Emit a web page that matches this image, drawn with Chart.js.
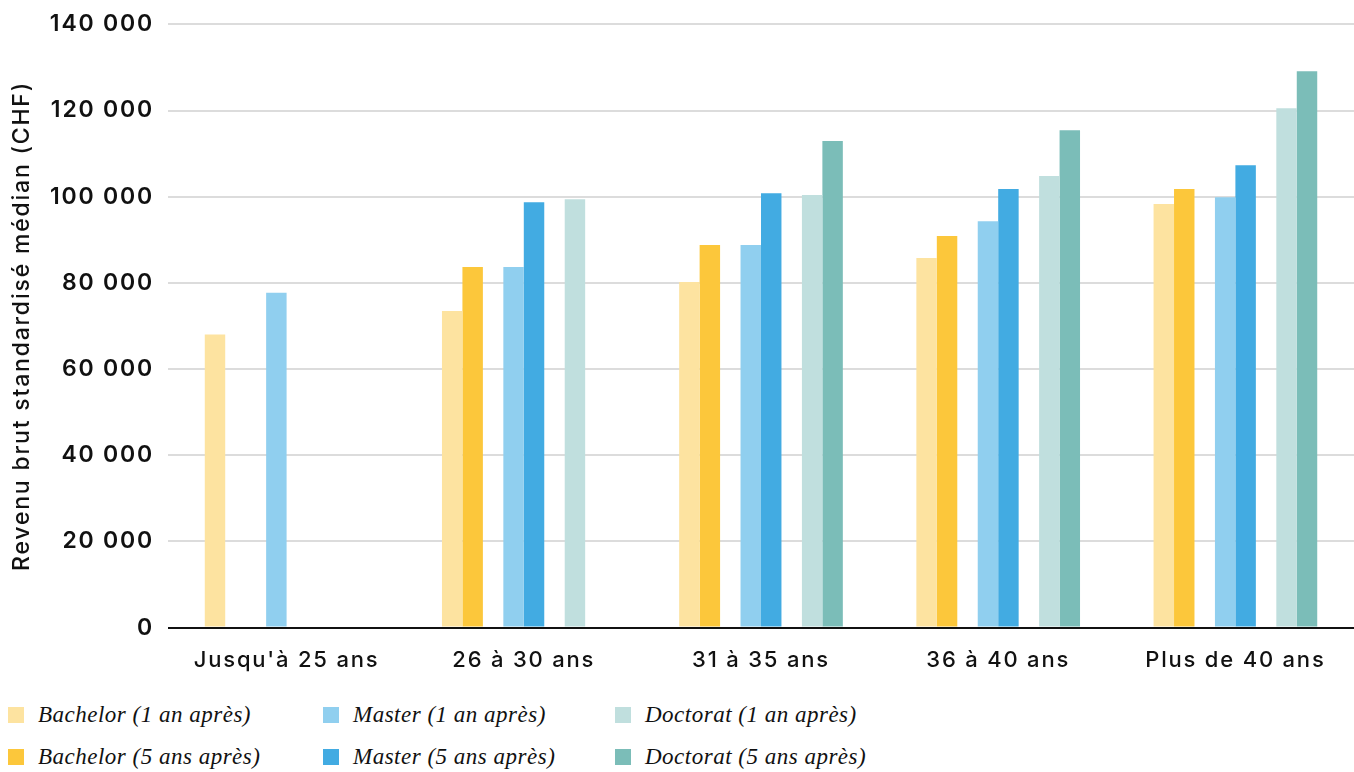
<!DOCTYPE html>
<html>
<head>
<meta charset="utf-8">
<script src="https://cdn.jsdelivr.net/npm/chart.js@4/dist/chart.umd.min.js"></script>
<style>
  html, body { margin: 0; padding: 0; background: #fff; }
  #wrap { position: relative; width: 1354px; height: 702px; }
  #legend {
    display: grid;
    grid-template-columns: 315px 292px 300px;
    grid-auto-rows: 42px;
    padding-left: 8px;
    margin-top: -8px;
    font-family: "Liberation Serif", serif;
    font-style: italic;
    font-size: 23px;
    letter-spacing: 0.5px;
    color: #111;
  }
  .item { display: flex; align-items: center; }
  .box { width: 16px; height: 16px; margin-right: 14px; flex: none; }
</style>
</head>
<body>
<div id="wrap"><canvas id="bar-chart"></canvas></div>
<div id="legend"></div>
<script>
const labels = ["Jusqu'à 25 ans", "26 à 30 ans", "31 à 35 ans", "36 à 40 ans", "Plus de 40 ans"];

const bachelor_1 = [68000, 73500, 80200, 85800, 98300];
const bachelor_5 = [null, 83700, 88800, 90900, 101800];
const master_1 = [77700, 83700, 88800, 94300, 99900];
const master_5 = [null, 98700, 100800, 101800, 107300];
const doctorat_1 = [null, 99400, 100400, 104800, 120500];
const doctorat_5 = [null, null, 112900, 115400, 129100];

const y_ticks = [0, 20000, 40000, 60000, 80000, 100000, 120000, 140000];

const series = [
  { label: "Bachelor (1 an après)", data: bachelor_1, color: "#FDE3A0" },
  { label: "Bachelor (5 ans après)", data: bachelor_5, color: "#FCC73B" },
  { label: "", data: [], color: "transparent", spacer: true },
  { label: "Master (1 an après)", data: master_1, color: "#90CFEF" },
  { label: "Master (5 ans après)", data: master_5, color: "#42ABE2" },
  { label: "", data: [], color: "transparent", spacer: true },
  { label: "Doctorat (1 an après)", data: doctorat_1, color: "#C0DFDE" },
  { label: "Doctorat (5 ans après)", data: doctorat_5, color: "#7BBDB8" },
];

const fmt = (v) => String(v).replace(/\B(?=(\d{3})+(?!\d))/g, " ");

// the original font is wider than Inter, spread the letters a bit
const spacing = {
  id: "spacing",
  beforeLayout: (chart) => { chart.ctx.letterSpacing = "1.8px"; },
  beforeDraw: (chart) => { chart.ctx.letterSpacing = "1.8px"; },
};

const bar_data = {
  labels: labels,
  datasets: series.map((s) => ({
    label: s.label,
    data: s.data,
    backgroundColor: s.color,
    borderWidth: 0,
    barPercentage: 1.0,
    categoryPercentage: 0.69,
  })),
};

const bar_config = {
  type: "bar",
  data: bar_data,
  plugins: [spacing],
  options: {
    responsive: true,
    maintainAspectRatio: false,
    animation: false,
    layout: { padding: { top: 0, right: 0, bottom: 8, left: 0 } },
    plugins: {
      legend: { display: false },
      tooltip: { enabled: false },
    },
    scales: {
      x: {
        grid: { display: false, drawTicks: false },
        border: { display: false },
        ticks: {
          color: "#111",
          padding: 20,
          font: { family: "Inter", size: 22, weight: "500" },
        },
      },
      y: {
        min: 0,
        max: 140000,
        afterBuildTicks: (scale) => {
          scale.ticks = y_ticks.map((v) => ({ value: v }));
        },
        afterFit: (scale) => {
          scale.width = 168;
        },
        grid: {
          color: (ctx) => (ctx.tick && ctx.tick.value === 0 ? "#111" : "#dcdcdc"),
          lineWidth: 2,
          drawTicks: false,
        },
        border: { display: false },
        ticks: {
          color: "#111",
          padding: 14,
          font: { family: "Inter", size: 23, weight: "600", lineHeight: 0.9 },
          callback: (v) => fmt(v),
        },
        title: {
          display: true,
          text: "Revenu brut standardisé médian (CHF)",
          color: "#111",
          padding: { top: 8, bottom: 0 },
          font: { family: "Inter", size: 23, weight: "500" },
        },
      },
    },
  },
};

const ctx = document.getElementById("bar-chart").getContext("2d");
const barChart = new Chart(ctx, bar_config);

// legend: 3 columns, 1 an après on first row, 5 ans après on second
const legend = document.getElementById("legend");
const real = series.filter((s) => !s.spacer);
const order = [0, 2, 4, 1, 3, 5];
order.forEach((i) => {
  const s = real[i];
  const item = document.createElement("div");
  item.className = "item";
  const box = document.createElement("span");
  box.className = "box";
  box.style.background = s.color;
  const txt = document.createElement("span");
  txt.textContent = s.label;
  item.appendChild(box);
  item.appendChild(txt);
  legend.appendChild(item);
});
</script>
</body>
</html>
